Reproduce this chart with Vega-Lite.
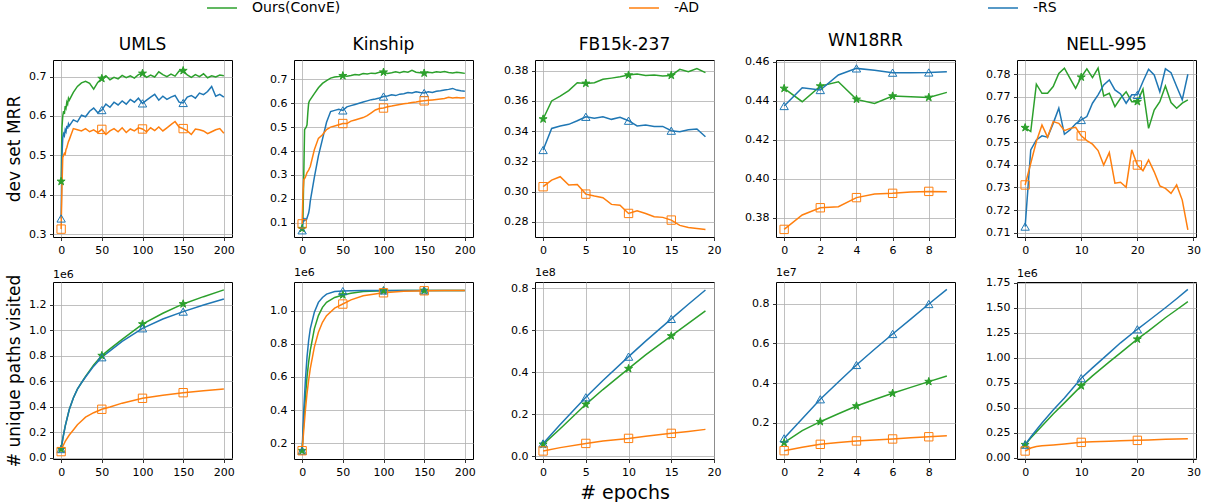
{
"$schema":"https://vega.github.io/schema/vega-lite/v6.json",
"padding":{"left":5,"top":0,"right":5,"bottom":3},
"datasets":{
"umls_mrr":[
{"s":"Ours(ConvE)","x":0,"y":0.434},{"s":"Ours(ConvE)","x":1,"y":0.57},{"s":"Ours(ConvE)","x":2,"y":0.6},{"s":"Ours(ConvE)","x":3,"y":0.612},{"s":"Ours(ConvE)","x":4,"y":0.605},{"s":"Ours(ConvE)","x":5,"y":0.625},{"s":"Ours(ConvE)","x":6,"y":0.62},{"s":"Ours(ConvE)","x":7,"y":0.635},{"s":"Ours(ConvE)","x":8,"y":0.63},{"s":"Ours(ConvE)","x":9,"y":0.645},{"s":"Ours(ConvE)","x":10,"y":0.64},{"s":"Ours(ConvE)","x":15,"y":0.66},{"s":"Ours(ConvE)","x":20,"y":0.675},{"s":"Ours(ConvE)","x":25,"y":0.684},{"s":"Ours(ConvE)","x":30,"y":0.688},{"s":"Ours(ConvE)","x":35,"y":0.683},{"s":"Ours(ConvE)","x":40,"y":0.668},{"s":"Ours(ConvE)","x":45,"y":0.685},{"s":"Ours(ConvE)","x":50,"y":0.695},{"s":"Ours(ConvE)","x":55,"y":0.702},{"s":"Ours(ConvE)","x":60,"y":0.692},{"s":"Ours(ConvE)","x":65,"y":0.698},{"s":"Ours(ConvE)","x":70,"y":0.694},{"s":"Ours(ConvE)","x":75,"y":0.703},{"s":"Ours(ConvE)","x":80,"y":0.697},{"s":"Ours(ConvE)","x":85,"y":0.702},{"s":"Ours(ConvE)","x":90,"y":0.696},{"s":"Ours(ConvE)","x":95,"y":0.705},{"s":"Ours(ConvE)","x":100,"y":0.708},{"s":"Ours(ConvE)","x":105,"y":0.698},{"s":"Ours(ConvE)","x":110,"y":0.704},{"s":"Ours(ConvE)","x":115,"y":0.699},{"s":"Ours(ConvE)","x":120,"y":0.712},{"s":"Ours(ConvE)","x":125,"y":0.705},{"s":"Ours(ConvE)","x":130,"y":0.7},{"s":"Ours(ConvE)","x":135,"y":0.706},{"s":"Ours(ConvE)","x":140,"y":0.701},{"s":"Ours(ConvE)","x":145,"y":0.714},{"s":"Ours(ConvE)","x":150,"y":0.715},{"s":"Ours(ConvE)","x":155,"y":0.704},{"s":"Ours(ConvE)","x":160,"y":0.698},{"s":"Ours(ConvE)","x":165,"y":0.705},{"s":"Ours(ConvE)","x":170,"y":0.7},{"s":"Ours(ConvE)","x":175,"y":0.707},{"s":"Ours(ConvE)","x":180,"y":0.697},{"s":"Ours(ConvE)","x":185,"y":0.702},{"s":"Ours(ConvE)","x":190,"y":0.699},{"s":"Ours(ConvE)","x":195,"y":0.704},{"s":"Ours(ConvE)","x":200,"y":0.702},
{"s":"-RS","x":0,"y":0.34},{"s":"-RS","x":1,"y":0.5},{"s":"-RS","x":2,"y":0.545},{"s":"-RS","x":3,"y":0.555},{"s":"-RS","x":4,"y":0.55},{"s":"-RS","x":5,"y":0.565},{"s":"-RS","x":6,"y":0.56},{"s":"-RS","x":7,"y":0.575},{"s":"-RS","x":8,"y":0.568},{"s":"-RS","x":9,"y":0.58},{"s":"-RS","x":10,"y":0.575},{"s":"-RS","x":15,"y":0.59},{"s":"-RS","x":20,"y":0.585},{"s":"-RS","x":25,"y":0.602},{"s":"-RS","x":30,"y":0.598},{"s":"-RS","x":35,"y":0.612},{"s":"-RS","x":40,"y":0.62},{"s":"-RS","x":45,"y":0.608},{"s":"-RS","x":50,"y":0.615},{"s":"-RS","x":55,"y":0.63},{"s":"-RS","x":60,"y":0.622},{"s":"-RS","x":65,"y":0.635},{"s":"-RS","x":70,"y":0.628},{"s":"-RS","x":75,"y":0.638},{"s":"-RS","x":80,"y":0.63},{"s":"-RS","x":85,"y":0.642},{"s":"-RS","x":90,"y":0.635},{"s":"-RS","x":95,"y":0.645},{"s":"-RS","x":100,"y":0.632},{"s":"-RS","x":105,"y":0.64},{"s":"-RS","x":110,"y":0.648},{"s":"-RS","x":115,"y":0.655},{"s":"-RS","x":120,"y":0.64},{"s":"-RS","x":125,"y":0.65},{"s":"-RS","x":130,"y":0.642},{"s":"-RS","x":135,"y":0.648},{"s":"-RS","x":140,"y":0.652},{"s":"-RS","x":145,"y":0.635},{"s":"-RS","x":150,"y":0.633},{"s":"-RS","x":155,"y":0.648},{"s":"-RS","x":160,"y":0.652},{"s":"-RS","x":165,"y":0.645},{"s":"-RS","x":170,"y":0.658},{"s":"-RS","x":175,"y":0.654},{"s":"-RS","x":180,"y":0.662},{"s":"-RS","x":185,"y":0.675},{"s":"-RS","x":190,"y":0.65},{"s":"-RS","x":195,"y":0.655},{"s":"-RS","x":200,"y":0.648},
{"s":"-AD","x":0,"y":0.313},{"s":"-AD","x":1,"y":0.42},{"s":"-AD","x":2,"y":0.495},{"s":"-AD","x":3,"y":0.5},{"s":"-AD","x":4,"y":0.505},{"s":"-AD","x":5,"y":0.503},{"s":"-AD","x":6,"y":0.515},{"s":"-AD","x":7,"y":0.52},{"s":"-AD","x":8,"y":0.528},{"s":"-AD","x":9,"y":0.535},{"s":"-AD","x":10,"y":0.54},{"s":"-AD","x":15,"y":0.568},{"s":"-AD","x":20,"y":0.565},{"s":"-AD","x":25,"y":0.562},{"s":"-AD","x":30,"y":0.568},{"s":"-AD","x":35,"y":0.56},{"s":"-AD","x":40,"y":0.565},{"s":"-AD","x":45,"y":0.558},{"s":"-AD","x":50,"y":0.566},{"s":"-AD","x":55,"y":0.553},{"s":"-AD","x":60,"y":0.562},{"s":"-AD","x":65,"y":0.568},{"s":"-AD","x":70,"y":0.56},{"s":"-AD","x":75,"y":0.57},{"s":"-AD","x":80,"y":0.558},{"s":"-AD","x":85,"y":0.567},{"s":"-AD","x":90,"y":0.562},{"s":"-AD","x":95,"y":0.57},{"s":"-AD","x":100,"y":0.567},{"s":"-AD","x":105,"y":0.56},{"s":"-AD","x":110,"y":0.57},{"s":"-AD","x":115,"y":0.563},{"s":"-AD","x":120,"y":0.572},{"s":"-AD","x":125,"y":0.562},{"s":"-AD","x":130,"y":0.57},{"s":"-AD","x":135,"y":0.578},{"s":"-AD","x":140,"y":0.586},{"s":"-AD","x":145,"y":0.572},{"s":"-AD","x":150,"y":0.568},{"s":"-AD","x":155,"y":0.562},{"s":"-AD","x":160,"y":0.553},{"s":"-AD","x":165,"y":0.567},{"s":"-AD","x":170,"y":0.565},{"s":"-AD","x":175,"y":0.562},{"s":"-AD","x":180,"y":0.555},{"s":"-AD","x":185,"y":0.56},{"s":"-AD","x":190,"y":0.565},{"s":"-AD","x":195,"y":0.568},{"s":"-AD","x":200,"y":0.556}
],
"kin_mrr":[
{"s":"Ours(ConvE)","x":0,"y":0.075},{"s":"Ours(ConvE)","x":1,"y":0.12},{"s":"Ours(ConvE)","x":2,"y":0.3},{"s":"Ours(ConvE)","x":3,"y":0.49},{"s":"Ours(ConvE)","x":4,"y":0.495},{"s":"Ours(ConvE)","x":5,"y":0.5},{"s":"Ours(ConvE)","x":6,"y":0.51},{"s":"Ours(ConvE)","x":7,"y":0.56},{"s":"Ours(ConvE)","x":8,"y":0.6},{"s":"Ours(ConvE)","x":9,"y":0.61},{"s":"Ours(ConvE)","x":10,"y":0.615},{"s":"Ours(ConvE)","x":15,"y":0.64},{"s":"Ours(ConvE)","x":20,"y":0.665},{"s":"Ours(ConvE)","x":25,"y":0.683},{"s":"Ours(ConvE)","x":30,"y":0.695},{"s":"Ours(ConvE)","x":35,"y":0.705},{"s":"Ours(ConvE)","x":40,"y":0.71},{"s":"Ours(ConvE)","x":45,"y":0.712},{"s":"Ours(ConvE)","x":50,"y":0.715},{"s":"Ours(ConvE)","x":55,"y":0.713},{"s":"Ours(ConvE)","x":60,"y":0.716},{"s":"Ours(ConvE)","x":65,"y":0.72},{"s":"Ours(ConvE)","x":70,"y":0.718},{"s":"Ours(ConvE)","x":75,"y":0.724},{"s":"Ours(ConvE)","x":80,"y":0.722},{"s":"Ours(ConvE)","x":85,"y":0.726},{"s":"Ours(ConvE)","x":90,"y":0.725},{"s":"Ours(ConvE)","x":95,"y":0.73},{"s":"Ours(ConvE)","x":100,"y":0.73},{"s":"Ours(ConvE)","x":105,"y":0.725},{"s":"Ours(ConvE)","x":110,"y":0.728},{"s":"Ours(ConvE)","x":115,"y":0.732},{"s":"Ours(ConvE)","x":120,"y":0.728},{"s":"Ours(ConvE)","x":125,"y":0.733},{"s":"Ours(ConvE)","x":130,"y":0.73},{"s":"Ours(ConvE)","x":135,"y":0.738},{"s":"Ours(ConvE)","x":140,"y":0.73},{"s":"Ours(ConvE)","x":145,"y":0.728},{"s":"Ours(ConvE)","x":150,"y":0.726},{"s":"Ours(ConvE)","x":155,"y":0.73},{"s":"Ours(ConvE)","x":160,"y":0.728},{"s":"Ours(ConvE)","x":165,"y":0.732},{"s":"Ours(ConvE)","x":170,"y":0.73},{"s":"Ours(ConvE)","x":175,"y":0.733},{"s":"Ours(ConvE)","x":180,"y":0.729},{"s":"Ours(ConvE)","x":185,"y":0.727},{"s":"Ours(ConvE)","x":190,"y":0.73},{"s":"Ours(ConvE)","x":195,"y":0.728},{"s":"Ours(ConvE)","x":200,"y":0.725},
{"s":"-RS","x":0,"y":0.068},{"s":"-RS","x":1,"y":0.1},{"s":"-RS","x":2,"y":0.12},{"s":"-RS","x":3,"y":0.11},{"s":"-RS","x":4,"y":0.115},{"s":"-RS","x":5,"y":0.11},{"s":"-RS","x":6,"y":0.12},{"s":"-RS","x":7,"y":0.13},{"s":"-RS","x":8,"y":0.14},{"s":"-RS","x":9,"y":0.16},{"s":"-RS","x":10,"y":0.19},{"s":"-RS","x":15,"y":0.29},{"s":"-RS","x":20,"y":0.38},{"s":"-RS","x":25,"y":0.45},{"s":"-RS","x":30,"y":0.52},{"s":"-RS","x":35,"y":0.565},{"s":"-RS","x":40,"y":0.57},{"s":"-RS","x":45,"y":0.575},{"s":"-RS","x":50,"y":0.57},{"s":"-RS","x":55,"y":0.585},{"s":"-RS","x":60,"y":0.59},{"s":"-RS","x":65,"y":0.595},{"s":"-RS","x":70,"y":0.6},{"s":"-RS","x":75,"y":0.605},{"s":"-RS","x":80,"y":0.61},{"s":"-RS","x":85,"y":0.615},{"s":"-RS","x":90,"y":0.618},{"s":"-RS","x":95,"y":0.622},{"s":"-RS","x":100,"y":0.628},{"s":"-RS","x":105,"y":0.63},{"s":"-RS","x":110,"y":0.635},{"s":"-RS","x":115,"y":0.632},{"s":"-RS","x":120,"y":0.638},{"s":"-RS","x":125,"y":0.64},{"s":"-RS","x":130,"y":0.645},{"s":"-RS","x":135,"y":0.643},{"s":"-RS","x":140,"y":0.648},{"s":"-RS","x":145,"y":0.645},{"s":"-RS","x":150,"y":0.643},{"s":"-RS","x":155,"y":0.648},{"s":"-RS","x":160,"y":0.645},{"s":"-RS","x":165,"y":0.65},{"s":"-RS","x":170,"y":0.652},{"s":"-RS","x":175,"y":0.655},{"s":"-RS","x":180,"y":0.658},{"s":"-RS","x":185,"y":0.662},{"s":"-RS","x":190,"y":0.655},{"s":"-RS","x":195,"y":0.652},{"s":"-RS","x":200,"y":0.65},
{"s":"-AD","x":0,"y":0.095},{"s":"-AD","x":1,"y":0.22},{"s":"-AD","x":2,"y":0.28},{"s":"-AD","x":3,"y":0.285},{"s":"-AD","x":4,"y":0.29},{"s":"-AD","x":5,"y":0.3},{"s":"-AD","x":6,"y":0.31},{"s":"-AD","x":7,"y":0.315},{"s":"-AD","x":8,"y":0.32},{"s":"-AD","x":9,"y":0.328},{"s":"-AD","x":10,"y":0.335},{"s":"-AD","x":15,"y":0.405},{"s":"-AD","x":20,"y":0.453},{"s":"-AD","x":25,"y":0.468},{"s":"-AD","x":30,"y":0.49},{"s":"-AD","x":35,"y":0.5},{"s":"-AD","x":40,"y":0.505},{"s":"-AD","x":45,"y":0.51},{"s":"-AD","x":50,"y":0.515},{"s":"-AD","x":55,"y":0.515},{"s":"-AD","x":60,"y":0.525},{"s":"-AD","x":65,"y":0.53},{"s":"-AD","x":70,"y":0.535},{"s":"-AD","x":75,"y":0.54},{"s":"-AD","x":80,"y":0.548},{"s":"-AD","x":85,"y":0.56},{"s":"-AD","x":90,"y":0.572},{"s":"-AD","x":95,"y":0.578},{"s":"-AD","x":100,"y":0.58},{"s":"-AD","x":105,"y":0.585},{"s":"-AD","x":110,"y":0.588},{"s":"-AD","x":115,"y":0.592},{"s":"-AD","x":120,"y":0.595},{"s":"-AD","x":125,"y":0.598},{"s":"-AD","x":130,"y":0.6},{"s":"-AD","x":135,"y":0.603},{"s":"-AD","x":140,"y":0.605},{"s":"-AD","x":145,"y":0.608},{"s":"-AD","x":150,"y":0.61},{"s":"-AD","x":155,"y":0.612},{"s":"-AD","x":160,"y":0.614},{"s":"-AD","x":165,"y":0.616},{"s":"-AD","x":170,"y":0.618},{"s":"-AD","x":175,"y":0.62},{"s":"-AD","x":180,"y":0.625},{"s":"-AD","x":185,"y":0.622},{"s":"-AD","x":190,"y":0.624},{"s":"-AD","x":195,"y":0.622},{"s":"-AD","x":200,"y":0.623}
],
"fb_mrr":[
{"s":"Ours(ConvE)","x":0,"y":0.348},{"s":"Ours(ConvE)","x":1,"y":0.36},{"s":"Ours(ConvE)","x":2,"y":0.3632},{"s":"Ours(ConvE)","x":3,"y":0.3668},{"s":"Ours(ConvE)","x":4,"y":0.372},{"s":"Ours(ConvE)","x":5,"y":0.3716},{"s":"Ours(ConvE)","x":6,"y":0.372},{"s":"Ours(ConvE)","x":7,"y":0.3743},{"s":"Ours(ConvE)","x":8,"y":0.3751},{"s":"Ours(ConvE)","x":9,"y":0.376},{"s":"Ours(ConvE)","x":10,"y":0.3771},{"s":"Ours(ConvE)","x":11,"y":0.3778},{"s":"Ours(ConvE)","x":12,"y":0.3769},{"s":"Ours(ConvE)","x":13,"y":0.3771},{"s":"Ours(ConvE)","x":14,"y":0.3765},{"s":"Ours(ConvE)","x":15,"y":0.3769},{"s":"Ours(ConvE)","x":16,"y":0.3809},{"s":"Ours(ConvE)","x":17,"y":0.3793},{"s":"Ours(ConvE)","x":18,"y":0.3815},{"s":"Ours(ConvE)","x":19,"y":0.3787},
{"s":"-RS","x":0,"y":0.3275},{"s":"-RS","x":1,"y":0.3418},{"s":"-RS","x":2,"y":0.3434},{"s":"-RS","x":3,"y":0.3445},{"s":"-RS","x":4,"y":0.3469},{"s":"-RS","x":5,"y":0.3495},{"s":"-RS","x":6,"y":0.3485},{"s":"-RS","x":7,"y":0.3495},{"s":"-RS","x":8,"y":0.3478},{"s":"-RS","x":9,"y":0.3491},{"s":"-RS","x":10,"y":0.3469},{"s":"-RS","x":11,"y":0.3434},{"s":"-RS","x":12,"y":0.344},{"s":"-RS","x":13,"y":0.3431},{"s":"-RS","x":14,"y":0.3431},{"s":"-RS","x":15,"y":0.3403},{"s":"-RS","x":16,"y":0.3396},{"s":"-RS","x":17,"y":0.3409},{"s":"-RS","x":18,"y":0.3414},{"s":"-RS","x":19,"y":0.3363},
{"s":"-AD","x":0,"y":0.3032},{"s":"-AD","x":1,"y":0.3076},{"s":"-AD","x":2,"y":0.3098},{"s":"-AD","x":3,"y":0.3043},{"s":"-AD","x":4,"y":0.3047},{"s":"-AD","x":5,"y":0.2983},{"s":"-AD","x":6,"y":0.297},{"s":"-AD","x":7,"y":0.2959},{"s":"-AD","x":8,"y":0.2915},{"s":"-AD","x":9,"y":0.291},{"s":"-AD","x":10,"y":0.2855},{"s":"-AD","x":11,"y":0.2873},{"s":"-AD","x":12,"y":0.2855},{"s":"-AD","x":13,"y":0.2833},{"s":"-AD","x":14,"y":0.2829},{"s":"-AD","x":15,"y":0.2811},{"s":"-AD","x":16,"y":0.2776},{"s":"-AD","x":17,"y":0.2762},{"s":"-AD","x":18,"y":0.2756},{"s":"-AD","x":19,"y":0.2749}
],
"wn_mrr":[
{"s":"Ours(ConvE)","x":0,"y":0.4463},{"s":"Ours(ConvE)","x":1,"y":0.4395},{"s":"Ours(ConvE)","x":2,"y":0.4475},{"s":"Ours(ConvE)","x":3,"y":0.4497},{"s":"Ours(ConvE)","x":4,"y":0.4407},{"s":"Ours(ConvE)","x":5,"y":0.4386},{"s":"Ours(ConvE)","x":6,"y":0.4424},{"s":"Ours(ConvE)","x":7,"y":0.442},{"s":"Ours(ConvE)","x":8,"y":0.4417},{"s":"Ours(ConvE)","x":9,"y":0.4443},
{"s":"-RS","x":0,"y":0.4373},{"s":"-RS","x":1,"y":0.4467},{"s":"-RS","x":2,"y":0.4455},{"s":"-RS","x":3,"y":0.4532},{"s":"-RS","x":4,"y":0.4566},{"s":"-RS","x":5,"y":0.4557},{"s":"-RS","x":6,"y":0.4544},{"s":"-RS","x":7,"y":0.4544},{"s":"-RS","x":8,"y":0.4545},{"s":"-RS","x":9,"y":0.4549},
{"s":"-AD","x":0,"y":0.374},{"s":"-AD","x":1,"y":0.3814},{"s":"-AD","x":2,"y":0.3851},{"s":"-AD","x":3,"y":0.3856},{"s":"-AD","x":4,"y":0.3903},{"s":"-AD","x":5,"y":0.3921},{"s":"-AD","x":6,"y":0.3925},{"s":"-AD","x":7,"y":0.3932},{"s":"-AD","x":8,"y":0.3935},{"s":"-AD","x":9,"y":0.3933}
],
"nell_mrr":[
{"s":"Ours(ConvE)","x":0,"y":0.7564},{"s":"Ours(ConvE)","x":1,"y":0.7547},{"s":"Ours(ConvE)","x":2,"y":0.7756},{"s":"Ours(ConvE)","x":3,"y":0.7716},{"s":"Ours(ConvE)","x":4,"y":0.7716},{"s":"Ours(ConvE)","x":5,"y":0.7746},{"s":"Ours(ConvE)","x":6,"y":0.7804},{"s":"Ours(ConvE)","x":7,"y":0.7827},{"s":"Ours(ConvE)","x":8,"y":0.7782},{"s":"Ours(ConvE)","x":9,"y":0.7738},{"s":"Ours(ConvE)","x":10,"y":0.7787},{"s":"Ours(ConvE)","x":11,"y":0.7824},{"s":"Ours(ConvE)","x":12,"y":0.7785},{"s":"Ours(ConvE)","x":13,"y":0.7827},{"s":"Ours(ConvE)","x":14,"y":0.7704},{"s":"Ours(ConvE)","x":15,"y":0.7716},{"s":"Ours(ConvE)","x":16,"y":0.7657},{"s":"Ours(ConvE)","x":17,"y":0.7694},{"s":"Ours(ConvE)","x":18,"y":0.7723},{"s":"Ours(ConvE)","x":19,"y":0.7679},{"s":"Ours(ConvE)","x":20,"y":0.7679},{"s":"Ours(ConvE)","x":21,"y":0.7734},{"s":"Ours(ConvE)","x":22,"y":0.7561},{"s":"Ours(ConvE)","x":23,"y":0.7642},{"s":"Ours(ConvE)","x":24,"y":0.7679},{"s":"Ours(ConvE)","x":25,"y":0.7748},{"s":"Ours(ConvE)","x":26,"y":0.7675},{"s":"Ours(ConvE)","x":27,"y":0.765},{"s":"Ours(ConvE)","x":28,"y":0.7672},{"s":"Ours(ConvE)","x":29,"y":0.7687},
{"s":"-RS","x":0,"y":0.7127},{"s":"-RS","x":1,"y":0.7466},{"s":"-RS","x":2,"y":0.751},{"s":"-RS","x":3,"y":0.7528},{"s":"-RS","x":4,"y":0.7522},{"s":"-RS","x":5,"y":0.7583},{"s":"-RS","x":6,"y":0.765},{"s":"-RS","x":7,"y":0.7535},{"s":"-RS","x":8,"y":0.7554},{"s":"-RS","x":9,"y":0.7581},{"s":"-RS","x":10,"y":0.7598},{"s":"-RS","x":11,"y":0.7613},{"s":"-RS","x":12,"y":0.7672},{"s":"-RS","x":13,"y":0.7709},{"s":"-RS","x":14,"y":0.7753},{"s":"-RS","x":15,"y":0.7775},{"s":"-RS","x":16,"y":0.7731},{"s":"-RS","x":17,"y":0.7713},{"s":"-RS","x":18,"y":0.7672},{"s":"-RS","x":19,"y":0.7709},{"s":"-RS","x":20,"y":0.7709},{"s":"-RS","x":21,"y":0.7768},{"s":"-RS","x":22,"y":0.7822},{"s":"-RS","x":23,"y":0.7797},{"s":"-RS","x":24,"y":0.7723},{"s":"-RS","x":25,"y":0.7824},{"s":"-RS","x":26,"y":0.7807},{"s":"-RS","x":27,"y":0.7746},{"s":"-RS","x":28,"y":0.7687},{"s":"-RS","x":29,"y":0.78},
{"s":"-AD","x":0,"y":0.7311},{"s":"-AD","x":1,"y":0.7407},{"s":"-AD","x":2,"y":0.7503},{"s":"-AD","x":3,"y":0.7576},{"s":"-AD","x":4,"y":0.7522},{"s":"-AD","x":5,"y":0.7591},{"s":"-AD","x":6,"y":0.7583},{"s":"-AD","x":7,"y":0.7551},{"s":"-AD","x":8,"y":0.7561},{"s":"-AD","x":9,"y":0.7566},{"s":"-AD","x":10,"y":0.7528},{"s":"-AD","x":11,"y":0.7507},{"s":"-AD","x":12,"y":0.7491},{"s":"-AD","x":13,"y":0.7463},{"s":"-AD","x":14,"y":0.7399},{"s":"-AD","x":15,"y":0.7454},{"s":"-AD","x":16,"y":0.7319},{"s":"-AD","x":17,"y":0.7323},{"s":"-AD","x":18,"y":0.7301},{"s":"-AD","x":19,"y":0.7466},{"s":"-AD","x":20,"y":0.7399},{"s":"-AD","x":21,"y":0.7374},{"s":"-AD","x":22,"y":0.7421},{"s":"-AD","x":23,"y":0.7369},{"s":"-AD","x":24,"y":0.7307},{"s":"-AD","x":25,"y":0.7296},{"s":"-AD","x":26,"y":0.7274},{"s":"-AD","x":27,"y":0.7311},{"s":"-AD","x":28,"y":0.7244},{"s":"-AD","x":29,"y":0.7112}
],
"umls_path":[
{"s":"Ours(ConvE)","x":0,"y":70000},{"s":"Ours(ConvE)","x":2,"y":150000},{"s":"Ours(ConvE)","x":5,"y":250000},{"s":"Ours(ConvE)","x":10,"y":380000},{"s":"Ours(ConvE)","x":15,"y":470000},{"s":"Ours(ConvE)","x":20,"y":540000},{"s":"Ours(ConvE)","x":25,"y":590000},{"s":"Ours(ConvE)","x":30,"y":640000},{"s":"Ours(ConvE)","x":40,"y":730000},{"s":"Ours(ConvE)","x":50,"y":803000},{"s":"Ours(ConvE)","x":60,"y":855000},{"s":"Ours(ConvE)","x":75,"y":930000},{"s":"Ours(ConvE)","x":100,"y":1050000},{"s":"Ours(ConvE)","x":125,"y":1135000},{"s":"Ours(ConvE)","x":150,"y":1208000},{"s":"Ours(ConvE)","x":175,"y":1265000},{"s":"Ours(ConvE)","x":200,"y":1318000},
{"s":"-RS","x":0,"y":70000},{"s":"-RS","x":2,"y":150000},{"s":"-RS","x":5,"y":250000},{"s":"-RS","x":10,"y":380000},{"s":"-RS","x":15,"y":470000},{"s":"-RS","x":20,"y":540000},{"s":"-RS","x":25,"y":590000},{"s":"-RS","x":30,"y":635000},{"s":"-RS","x":40,"y":720000},{"s":"-RS","x":50,"y":790000},{"s":"-RS","x":60,"y":840000},{"s":"-RS","x":75,"y":915000},{"s":"-RS","x":100,"y":1017000},{"s":"-RS","x":125,"y":1090000},{"s":"-RS","x":150,"y":1148000},{"s":"-RS","x":175,"y":1200000},{"s":"-RS","x":200,"y":1247000},
{"s":"-AD","x":0,"y":50000},{"s":"-AD","x":2,"y":90000},{"s":"-AD","x":5,"y":130000},{"s":"-AD","x":10,"y":180000},{"s":"-AD","x":15,"y":220000},{"s":"-AD","x":20,"y":260000},{"s":"-AD","x":25,"y":290000},{"s":"-AD","x":30,"y":320000},{"s":"-AD","x":40,"y":355000},{"s":"-AD","x":50,"y":382000},{"s":"-AD","x":60,"y":400000},{"s":"-AD","x":75,"y":430000},{"s":"-AD","x":100,"y":468000},{"s":"-AD","x":125,"y":492000},{"s":"-AD","x":150,"y":512000},{"s":"-AD","x":175,"y":527000},{"s":"-AD","x":200,"y":541000}
],
"kin_path":[
{"s":"Ours(ConvE)","x":0,"y":155000},{"s":"Ours(ConvE)","x":2,"y":330000},{"s":"Ours(ConvE)","x":4,"y":480000},{"s":"Ours(ConvE)","x":6,"y":600000},{"s":"Ours(ConvE)","x":8,"y":690000},{"s":"Ours(ConvE)","x":10,"y":760000},{"s":"Ours(ConvE)","x":15,"y":890000},{"s":"Ours(ConvE)","x":20,"y":970000},{"s":"Ours(ConvE)","x":25,"y":1020000},{"s":"Ours(ConvE)","x":30,"y":1050000},{"s":"Ours(ConvE)","x":40,"y":1080000},{"s":"Ours(ConvE)","x":50,"y":1095000},{"s":"Ours(ConvE)","x":60,"y":1105000},{"s":"Ours(ConvE)","x":75,"y":1115000},{"s":"Ours(ConvE)","x":100,"y":1120000},{"s":"Ours(ConvE)","x":125,"y":1121000},{"s":"Ours(ConvE)","x":150,"y":1122000},{"s":"Ours(ConvE)","x":175,"y":1122000},{"s":"Ours(ConvE)","x":200,"y":1122000},
{"s":"-RS","x":0,"y":155000},{"s":"-RS","x":2,"y":400000},{"s":"-RS","x":4,"y":580000},{"s":"-RS","x":6,"y":720000},{"s":"-RS","x":8,"y":820000},{"s":"-RS","x":10,"y":890000},{"s":"-RS","x":15,"y":990000},{"s":"-RS","x":20,"y":1050000},{"s":"-RS","x":25,"y":1080000},{"s":"-RS","x":30,"y":1100000},{"s":"-RS","x":40,"y":1115000},{"s":"-RS","x":50,"y":1118000},{"s":"-RS","x":60,"y":1120000},{"s":"-RS","x":75,"y":1121000},{"s":"-RS","x":100,"y":1122000},{"s":"-RS","x":125,"y":1122000},{"s":"-RS","x":150,"y":1122000},{"s":"-RS","x":175,"y":1122000},{"s":"-RS","x":200,"y":1122000},
{"s":"-AD","x":0,"y":155000},{"s":"-AD","x":2,"y":280000},{"s":"-AD","x":4,"y":400000},{"s":"-AD","x":6,"y":500000},{"s":"-AD","x":8,"y":580000},{"s":"-AD","x":10,"y":650000},{"s":"-AD","x":15,"y":780000},{"s":"-AD","x":20,"y":870000},{"s":"-AD","x":25,"y":930000},{"s":"-AD","x":30,"y":970000},{"s":"-AD","x":40,"y":1015000},{"s":"-AD","x":50,"y":1040000},{"s":"-AD","x":60,"y":1065000},{"s":"-AD","x":75,"y":1090000},{"s":"-AD","x":100,"y":1108000},{"s":"-AD","x":125,"y":1117000},{"s":"-AD","x":150,"y":1120000},{"s":"-AD","x":175,"y":1121000},{"s":"-AD","x":200,"y":1122000}
],
"fb_path":[
{"s":"Ours(ConvE)","x":0,"y":5570000},{"s":"Ours(ConvE)","x":2,"y":13000000},{"s":"Ours(ConvE)","x":5,"y":24650000},{"s":"Ours(ConvE)","x":7,"y":31700000},{"s":"Ours(ConvE)","x":10,"y":41670000},{"s":"Ours(ConvE)","x":12,"y":48200000},{"s":"Ours(ConvE)","x":15,"y":57260000},{"s":"Ours(ConvE)","x":17,"y":63300000},{"s":"Ours(ConvE)","x":19,"y":69200000},
{"s":"-RS","x":0,"y":6000000},{"s":"-RS","x":2,"y":15000000},{"s":"-RS","x":5,"y":28000000},{"s":"-RS","x":7,"y":36000000},{"s":"-RS","x":10,"y":47400000},{"s":"-RS","x":12,"y":54800000},{"s":"-RS","x":15,"y":65400000},{"s":"-RS","x":17,"y":72400000},{"s":"-RS","x":19,"y":79200000},
{"s":"-AD","x":0,"y":2400000},{"s":"-AD","x":2,"y":4000000},{"s":"-AD","x":5,"y":6000000},{"s":"-AD","x":7,"y":7200000},{"s":"-AD","x":10,"y":8400000},{"s":"-AD","x":12,"y":9400000},{"s":"-AD","x":15,"y":10800000},{"s":"-AD","x":17,"y":11700000},{"s":"-AD","x":19,"y":12700000}
],
"wn_path":[
{"s":"Ours(ConvE)","x":0,"y":990000},{"s":"Ours(ConvE)","x":1,"y":1600000},{"s":"Ours(ConvE)","x":2,"y":2050000},{"s":"Ours(ConvE)","x":3,"y":2450000},{"s":"Ours(ConvE)","x":4,"y":2840000},{"s":"Ours(ConvE)","x":5,"y":3170000},{"s":"Ours(ConvE)","x":6,"y":3480000},{"s":"Ours(ConvE)","x":7,"y":3780000},{"s":"Ours(ConvE)","x":8,"y":4070000},{"s":"Ours(ConvE)","x":9,"y":4350000},
{"s":"-RS","x":0,"y":1210000},{"s":"-RS","x":1,"y":2200000},{"s":"-RS","x":2,"y":3180000},{"s":"-RS","x":3,"y":4050000},{"s":"-RS","x":4,"y":4910000},{"s":"-RS","x":5,"y":5700000},{"s":"-RS","x":6,"y":6470000},{"s":"-RS","x":7,"y":7220000},{"s":"-RS","x":8,"y":7980000},{"s":"-RS","x":9,"y":8720000},
{"s":"-AD","x":0,"y":590000},{"s":"-AD","x":1,"y":760000},{"s":"-AD","x":2,"y":910000},{"s":"-AD","x":3,"y":1000000},{"s":"-AD","x":4,"y":1080000},{"s":"-AD","x":5,"y":1130000},{"s":"-AD","x":6,"y":1180000},{"s":"-AD","x":7,"y":1240000},{"s":"-AD","x":8,"y":1290000},{"s":"-AD","x":9,"y":1340000}
],
"nell_path":[
{"s":"Ours(ConvE)","x":0,"y":133000},{"s":"Ours(ConvE)","x":1,"y":200000},{"s":"Ours(ConvE)","x":2,"y":260000},{"s":"Ours(ConvE)","x":3,"y":320000},{"s":"Ours(ConvE)","x":5,"y":440000},{"s":"Ours(ConvE)","x":7,"y":550000},{"s":"Ours(ConvE)","x":10,"y":720000},{"s":"Ours(ConvE)","x":12,"y":820000},{"s":"Ours(ConvE)","x":15,"y":960000},{"s":"Ours(ConvE)","x":17,"y":1050000},{"s":"Ours(ConvE)","x":20,"y":1186000},{"s":"Ours(ConvE)","x":22,"y":1270000},{"s":"Ours(ConvE)","x":25,"y":1400000},{"s":"Ours(ConvE)","x":27,"y":1480000},{"s":"Ours(ConvE)","x":29,"y":1561000},
{"s":"-RS","x":0,"y":133000},{"s":"-RS","x":1,"y":210000},{"s":"-RS","x":2,"y":280000},{"s":"-RS","x":3,"y":350000},{"s":"-RS","x":5,"y":480000},{"s":"-RS","x":7,"y":600000},{"s":"-RS","x":10,"y":797000},{"s":"-RS","x":12,"y":900000},{"s":"-RS","x":15,"y":1050000},{"s":"-RS","x":17,"y":1150000},{"s":"-RS","x":20,"y":1285000},{"s":"-RS","x":22,"y":1370000},{"s":"-RS","x":25,"y":1500000},{"s":"-RS","x":27,"y":1590000},{"s":"-RS","x":29,"y":1684000},
{"s":"-AD","x":0,"y":70000},{"s":"-AD","x":1,"y":100000},{"s":"-AD","x":2,"y":115000},{"s":"-AD","x":3,"y":122000},{"s":"-AD","x":5,"y":130000},{"s":"-AD","x":7,"y":140000},{"s":"-AD","x":10,"y":156000},{"s":"-AD","x":12,"y":161000},{"s":"-AD","x":15,"y":167000},{"s":"-AD","x":17,"y":171000},{"s":"-AD","x":20,"y":176000},{"s":"-AD","x":22,"y":180000},{"s":"-AD","x":25,"y":186000},{"s":"-AD","x":27,"y":190000},{"s":"-AD","x":29,"y":193000}
]
},
"columns":5,
"spacing":{"row":45,"column":62},
"bounds":"flush",
"concat":[
{"width":179,"height":177,"title":{"text":"UMLS"},"data":{"name":"umls_mrr"},
"encoding":{"x":{"field":"x","type":"quantitative","scale":{"domain":[-10,210],"nice":false,"zero":false},"axis":{"values":[0,50,100,150,200],"title":null}},
"y":{"field":"y","type":"quantitative","scale":{"domain":[0.293,0.742],"nice":false,"zero":false},"axis":{"values":[0.3,0.4,0.5,0.6,0.7],"format":".1f","title":"dev set MRR"}}},
"layer":[
{"mark":{"type":"line","strokeWidth":1.5},"encoding":{"color":{"field":"s","type":"nominal","scale":{"domain":["Ours(ConvE)","-AD","-RS"],"range":["#2ca02c","#ff7f0e","#1f77b4"]},"legend":{"title":null,"orient":"none","legendX":161,"legendY":-60}}}},
{"transform":[{"filter":"indexof([0,50,100,150],datum.x)>=0"}],"mark":{"type":"point","filled":false,"size":70,"strokeWidth":1,"opacity":1},
"encoding":{"stroke":{"field":"s","type":"nominal","scale":{"domain":["-AD","-RS","Ours(ConvE)"],"range":["#ff7f0e","#1f77b4","#2ca02c"]},"legend":null},
"fill":{"field":"s","type":"nominal","scale":{"domain":["-AD","-RS","Ours(ConvE)"],"range":["transparent","transparent","#2ca02c"]},"legend":null},
"shape":{"field":"s","type":"nominal","scale":{"domain":["-AD","-RS","Ours(ConvE)"],"range":["square","triangle-up","M0,-1L0.2245,-0.309L0.9511,-0.309L0.3633,0.118L0.5878,0.809L0,0.382L-0.5878,0.809L-0.3633,0.118L-0.9511,-0.309L-0.2245,-0.309Z"]},"legend":null}}}
]},
{"width":179,"height":177,"title":{"text":"Kinship"},"data":{"name":"kin_mrr"},
"encoding":{"x":{"field":"x","type":"quantitative","scale":{"domain":[-10,210],"nice":false,"zero":false},"axis":{"values":[0,50,100,150,200],"title":null}},
"y":{"field":"y","type":"quantitative","scale":{"domain":[0.04,0.781],"nice":false,"zero":false},"axis":{"values":[0.1,0.2,0.3,0.4,0.5,0.6,0.7],"format":".1f","title":null}}},
"layer":[
{"mark":{"type":"line","strokeWidth":1.5},"encoding":{"color":{"field":"s","type":"nominal","scale":{"domain":["Ours(ConvE)","-AD","-RS"],"range":["#2ca02c","#ff7f0e","#1f77b4"]},"legend":{"title":null,"orient":"none","legendX":161,"legendY":-60}}}},
{"transform":[{"filter":"indexof([0,50,100,150],datum.x)>=0"}],"mark":{"type":"point","filled":false,"size":70,"strokeWidth":1,"opacity":1},
"encoding":{"stroke":{"field":"s","type":"nominal","scale":{"domain":["-AD","-RS","Ours(ConvE)"],"range":["#ff7f0e","#1f77b4","#2ca02c"]},"legend":null},
"fill":{"field":"s","type":"nominal","scale":{"domain":["-AD","-RS","Ours(ConvE)"],"range":["transparent","transparent","#2ca02c"]},"legend":null},
"shape":{"field":"s","type":"nominal","scale":{"domain":["-AD","-RS","Ours(ConvE)"],"range":["square","triangle-up","M0,-1L0.2245,-0.309L0.9511,-0.309L0.3633,0.118L0.5878,0.809L0,0.382L-0.5878,0.809L-0.3633,0.118L-0.9511,-0.309L-0.2245,-0.309Z"]},"legend":null}}}
]},
{"width":179,"height":177,"title":{"text":"FB15k-237"},"data":{"name":"fb_mrr"},
"encoding":{"x":{"field":"x","type":"quantitative","scale":{"domain":[-0.95,20],"nice":false,"zero":false},"axis":{"values":[0,5,10,15,20],"title":null}},
"y":{"field":"y","type":"quantitative","scale":{"domain":[0.2699,0.3871],"nice":false,"zero":false},"axis":{"values":[0.28,0.3,0.32,0.34,0.36,0.38],"format":".2f","title":null}}},
"layer":[
{"mark":{"type":"line","strokeWidth":1.5},"encoding":{"color":{"field":"s","type":"nominal","scale":{"domain":["Ours(ConvE)","-AD","-RS"],"range":["#2ca02c","#ff7f0e","#1f77b4"]},"legend":{"title":null,"orient":"none","legendX":161,"legendY":-60}}}},
{"transform":[{"filter":"indexof([0,5,10,15],datum.x)>=0"}],"mark":{"type":"point","filled":false,"size":70,"strokeWidth":1,"opacity":1},
"encoding":{"stroke":{"field":"s","type":"nominal","scale":{"domain":["-AD","-RS","Ours(ConvE)"],"range":["#ff7f0e","#1f77b4","#2ca02c"]},"legend":null},
"fill":{"field":"s","type":"nominal","scale":{"domain":["-AD","-RS","Ours(ConvE)"],"range":["transparent","transparent","#2ca02c"]},"legend":null},
"shape":{"field":"s","type":"nominal","scale":{"domain":["-AD","-RS","Ours(ConvE)"],"range":["square","triangle-up","M0,-1L0.2245,-0.309L0.9511,-0.309L0.3633,0.118L0.5878,0.809L0,0.382L-0.5878,0.809L-0.3633,0.118L-0.9511,-0.309L-0.2245,-0.309Z"]},"legend":null}}}
]},
{"width":179,"height":177,"title":{"text":"WN18RR"},"data":{"name":"wn_mrr"},
"encoding":{"x":{"field":"x","type":"quantitative","scale":{"domain":[-0.45,9.45],"nice":false,"zero":false},"axis":{"values":[0,2,4,6,8],"title":null}},
"y":{"field":"y","type":"quantitative","scale":{"domain":[0.3701,0.4609],"nice":false,"zero":false},"axis":{"values":[0.38,0.4,0.42,0.44,0.46],"format":".2f","title":null}}},
"layer":[
{"mark":{"type":"line","strokeWidth":1.5},"encoding":{"color":{"field":"s","type":"nominal","scale":{"domain":["Ours(ConvE)","-AD","-RS"],"range":["#2ca02c","#ff7f0e","#1f77b4"]},"legend":{"title":null,"orient":"none","legendX":161,"legendY":-60}}}},
{"transform":[{"filter":"indexof([0,2,4,6,8],datum.x)>=0"}],"mark":{"type":"point","filled":false,"size":70,"strokeWidth":1,"opacity":1},
"encoding":{"stroke":{"field":"s","type":"nominal","scale":{"domain":["-AD","-RS","Ours(ConvE)"],"range":["#ff7f0e","#1f77b4","#2ca02c"]},"legend":null},
"fill":{"field":"s","type":"nominal","scale":{"domain":["-AD","-RS","Ours(ConvE)"],"range":["transparent","transparent","#2ca02c"]},"legend":null},
"shape":{"field":"s","type":"nominal","scale":{"domain":["-AD","-RS","Ours(ConvE)"],"range":["square","triangle-up","M0,-1L0.2245,-0.309L0.9511,-0.309L0.3633,0.118L0.5878,0.809L0,0.382L-0.5878,0.809L-0.3633,0.118L-0.9511,-0.309L-0.2245,-0.309Z"]},"legend":null}}}
]},
{"width":179,"height":177,"title":{"text":"NELL-995"},"data":{"name":"nell_mrr"},
"encoding":{"x":{"field":"x","type":"quantitative","scale":{"domain":[-1.45,30.45],"nice":false,"zero":false},"axis":{"values":[0,10,20,30],"title":null}},
"y":{"field":"y","type":"quantitative","scale":{"domain":[0.7081,0.7863],"nice":false,"zero":false},"axis":{"values":[0.71,0.72,0.73,0.74,0.75,0.76,0.77,0.78],"format":".2f","title":null}}},
"layer":[
{"mark":{"type":"line","strokeWidth":1.5},"encoding":{"color":{"field":"s","type":"nominal","scale":{"domain":["Ours(ConvE)","-AD","-RS"],"range":["#2ca02c","#ff7f0e","#1f77b4"]},"legend":{"title":null,"orient":"none","legendX":161,"legendY":-60}}}},
{"transform":[{"filter":"indexof([0,10,20],datum.x)>=0"}],"mark":{"type":"point","filled":false,"size":70,"strokeWidth":1,"opacity":1},
"encoding":{"stroke":{"field":"s","type":"nominal","scale":{"domain":["-AD","-RS","Ours(ConvE)"],"range":["#ff7f0e","#1f77b4","#2ca02c"]},"legend":null},
"fill":{"field":"s","type":"nominal","scale":{"domain":["-AD","-RS","Ours(ConvE)"],"range":["transparent","transparent","#2ca02c"]},"legend":null},
"shape":{"field":"s","type":"nominal","scale":{"domain":["-AD","-RS","Ours(ConvE)"],"range":["square","triangle-up","M0,-1L0.2245,-0.309L0.9511,-0.309L0.3633,0.118L0.5878,0.809L0,0.382L-0.5878,0.809L-0.3633,0.118L-0.9511,-0.309L-0.2245,-0.309Z"]},"legend":null}}}
]},
{"width":179,"height":177,"title":{"text":"1e6","anchor":"start","fontSize":11,"offset":-6},"data":{"name":"umls_path"},
"encoding":{"x":{"field":"x","type":"quantitative","scale":{"domain":[-10,210],"nice":false,"zero":false},"axis":{"values":[0,50,100,150,200],"title":null}},
"y":{"field":"y","type":"quantitative","scale":{"domain":[-8000,1380000],"nice":false,"zero":false},"axis":{"values":[0,200000,400000,600000,800000,1000000,1200000],"labelExpr":"format(datum.value/1000000,'.1f')","title":"# unique paths visited"}}},
"layer":[
{"mark":{"type":"line","strokeWidth":1.5},"encoding":{"color":{"field":"s","type":"nominal","scale":{"domain":["Ours(ConvE)","-AD","-RS"],"range":["#2ca02c","#ff7f0e","#1f77b4"]},"legend":{"title":null,"orient":"none","legendX":161,"legendY":-60}}}},
{"transform":[{"filter":"indexof([0,50,100,150],datum.x)>=0"}],"mark":{"type":"point","filled":false,"size":70,"strokeWidth":1,"opacity":1},
"encoding":{"stroke":{"field":"s","type":"nominal","scale":{"domain":["-AD","-RS","Ours(ConvE)"],"range":["#ff7f0e","#1f77b4","#2ca02c"]},"legend":null},
"fill":{"field":"s","type":"nominal","scale":{"domain":["-AD","-RS","Ours(ConvE)"],"range":["transparent","transparent","#2ca02c"]},"legend":null},
"shape":{"field":"s","type":"nominal","scale":{"domain":["-AD","-RS","Ours(ConvE)"],"range":["square","triangle-up","M0,-1L0.2245,-0.309L0.9511,-0.309L0.3633,0.118L0.5878,0.809L0,0.382L-0.5878,0.809L-0.3633,0.118L-0.9511,-0.309L-0.2245,-0.309Z"]},"legend":null}}}
]},
{"width":179,"height":177,"title":{"text":"1e6","anchor":"start","fontSize":11,"offset":4},"data":{"name":"kin_path"},
"encoding":{"x":{"field":"x","type":"quantitative","scale":{"domain":[-10,210],"nice":false,"zero":false},"axis":{"values":[0,50,100,150,200],"title":null}},
"y":{"field":"y","type":"quantitative","scale":{"domain":[105000,1173000],"nice":false,"zero":false},"axis":{"values":[200000,400000,600000,800000,1000000],"labelExpr":"format(datum.value/1000000,'.1f')","title":null}}},
"layer":[
{"mark":{"type":"line","strokeWidth":1.5},"encoding":{"color":{"field":"s","type":"nominal","scale":{"domain":["Ours(ConvE)","-AD","-RS"],"range":["#2ca02c","#ff7f0e","#1f77b4"]},"legend":{"title":null,"orient":"none","legendX":161,"legendY":-60}}}},
{"transform":[{"filter":"indexof([0,50,100,150],datum.x)>=0"}],"mark":{"type":"point","filled":false,"size":70,"strokeWidth":1,"opacity":1},
"encoding":{"stroke":{"field":"s","type":"nominal","scale":{"domain":["-AD","-RS","Ours(ConvE)"],"range":["#ff7f0e","#1f77b4","#2ca02c"]},"legend":null},
"fill":{"field":"s","type":"nominal","scale":{"domain":["-AD","-RS","Ours(ConvE)"],"range":["transparent","transparent","#2ca02c"]},"legend":null},
"shape":{"field":"s","type":"nominal","scale":{"domain":["-AD","-RS","Ours(ConvE)"],"range":["square","triangle-up","M0,-1L0.2245,-0.309L0.9511,-0.309L0.3633,0.118L0.5878,0.809L0,0.382L-0.5878,0.809L-0.3633,0.118L-0.9511,-0.309L-0.2245,-0.309Z"]},"legend":null}}}
]},
{"width":179,"height":177,"title":{"text":"1e8","anchor":"start","fontSize":11,"offset":4},"data":{"name":"fb_path"},
"encoding":{"x":{"field":"x","type":"quantitative","scale":{"domain":[-0.95,20],"nice":false,"zero":false},"axis":{"values":[0,5,10,15,20],"title":"# epochs","titleFontSize":19,"titlePadding":6}},
"y":{"field":"y","type":"quantitative","scale":{"domain":[-1430000,83000000],"nice":false,"zero":false},"axis":{"values":[0,20000000,40000000,60000000,80000000],"labelExpr":"format(datum.value/100000000,'.1f')","title":null}}},
"layer":[
{"mark":{"type":"line","strokeWidth":1.5},"encoding":{"color":{"field":"s","type":"nominal","scale":{"domain":["Ours(ConvE)","-AD","-RS"],"range":["#2ca02c","#ff7f0e","#1f77b4"]},"legend":{"title":null,"orient":"none","legendX":161,"legendY":-60}}}},
{"transform":[{"filter":"indexof([0,5,10,15],datum.x)>=0"}],"mark":{"type":"point","filled":false,"size":70,"strokeWidth":1,"opacity":1},
"encoding":{"stroke":{"field":"s","type":"nominal","scale":{"domain":["-AD","-RS","Ours(ConvE)"],"range":["#ff7f0e","#1f77b4","#2ca02c"]},"legend":null},
"fill":{"field":"s","type":"nominal","scale":{"domain":["-AD","-RS","Ours(ConvE)"],"range":["transparent","transparent","#2ca02c"]},"legend":null},
"shape":{"field":"s","type":"nominal","scale":{"domain":["-AD","-RS","Ours(ConvE)"],"range":["square","triangle-up","M0,-1L0.2245,-0.309L0.9511,-0.309L0.3633,0.118L0.5878,0.809L0,0.382L-0.5878,0.809L-0.3633,0.118L-0.9511,-0.309L-0.2245,-0.309Z"]},"legend":null}}}
]},
{"width":179,"height":177,"title":{"text":"1e7","anchor":"start","fontSize":11,"offset":4},"data":{"name":"wn_path"},
"encoding":{"x":{"field":"x","type":"quantitative","scale":{"domain":[-0.45,9.45],"nice":false,"zero":false},"axis":{"values":[0,2,4,6,8],"title":null}},
"y":{"field":"y","type":"quantitative","scale":{"domain":[170000,9090000],"nice":false,"zero":false},"axis":{"values":[2000000,4000000,6000000,8000000],"labelExpr":"format(datum.value/10000000,'.1f')","title":null}}},
"layer":[
{"mark":{"type":"line","strokeWidth":1.5},"encoding":{"color":{"field":"s","type":"nominal","scale":{"domain":["Ours(ConvE)","-AD","-RS"],"range":["#2ca02c","#ff7f0e","#1f77b4"]},"legend":{"title":null,"orient":"none","legendX":161,"legendY":-60}}}},
{"transform":[{"filter":"indexof([0,2,4,6,8],datum.x)>=0"}],"mark":{"type":"point","filled":false,"size":70,"strokeWidth":1,"opacity":1},
"encoding":{"stroke":{"field":"s","type":"nominal","scale":{"domain":["-AD","-RS","Ours(ConvE)"],"range":["#ff7f0e","#1f77b4","#2ca02c"]},"legend":null},
"fill":{"field":"s","type":"nominal","scale":{"domain":["-AD","-RS","Ours(ConvE)"],"range":["transparent","transparent","#2ca02c"]},"legend":null},
"shape":{"field":"s","type":"nominal","scale":{"domain":["-AD","-RS","Ours(ConvE)"],"range":["square","triangle-up","M0,-1L0.2245,-0.309L0.9511,-0.309L0.3633,0.118L0.5878,0.809L0,0.382L-0.5878,0.809L-0.3633,0.118L-0.9511,-0.309L-0.2245,-0.309Z"]},"legend":null}}}
]},
{"width":179,"height":177,"title":{"text":"1e6","anchor":"start","fontSize":11,"offset":-2},"data":{"name":"nell_path"},
"encoding":{"x":{"field":"x","type":"quantitative","scale":{"domain":[-1.45,30.45],"nice":false,"zero":false},"axis":{"values":[0,10,20,30],"title":null}},
"y":{"field":"y","type":"quantitative","scale":{"domain":[-10000,1757000],"nice":false,"zero":false},"axis":{"values":[0,250000,500000,750000,1000000,1250000,1500000,1750000],"labelExpr":"format(datum.value/1000000,'.2f')","title":null}}},
"layer":[
{"mark":{"type":"line","strokeWidth":1.5},"encoding":{"color":{"field":"s","type":"nominal","scale":{"domain":["Ours(ConvE)","-AD","-RS"],"range":["#2ca02c","#ff7f0e","#1f77b4"]},"legend":{"title":null,"orient":"none","legendX":161,"legendY":-60}}}},
{"transform":[{"filter":"indexof([0,10,20],datum.x)>=0"}],"mark":{"type":"point","filled":false,"size":70,"strokeWidth":1,"opacity":1},
"encoding":{"stroke":{"field":"s","type":"nominal","scale":{"domain":["-AD","-RS","Ours(ConvE)"],"range":["#ff7f0e","#1f77b4","#2ca02c"]},"legend":null},
"fill":{"field":"s","type":"nominal","scale":{"domain":["-AD","-RS","Ours(ConvE)"],"range":["transparent","transparent","#2ca02c"]},"legend":null},
"shape":{"field":"s","type":"nominal","scale":{"domain":["-AD","-RS","Ours(ConvE)"],"range":["square","triangle-up","M0,-1L0.2245,-0.309L0.9511,-0.309L0.3633,0.118L0.5878,0.809L0,0.382L-0.5878,0.809L-0.3633,0.118L-0.9511,-0.309L-0.2245,-0.309Z"]},"legend":null}}}
]}
],
"config":{
"font":"DejaVu Sans",
"view":{"stroke":"black","strokeWidth":1},
"axis":{"domain":false,"grid":true,"gridColor":"#b0b0b0","gridWidth":0.8,"tickColor":"black","tickSize":3.5,"tickWidth":0.8,"labelFontSize":11,"labelColor":"black","labelPadding":3.5,"labelFlush":false,"labelOverlap":false,"labelBound":false,"titleFontSize":17,"titleFontWeight":"normal","titleColor":"black","titlePadding":5},
"title":{"fontSize":17,"fontWeight":"normal","color":"black","offset":6,"frame":"group","anchor":"middle"},
"legend":{"direction":"horizontal","columns":3,"columnPadding":285,"labelFontSize":14,"labelOffset":22,"symbolSize":196,"symbolStrokeWidth":1.5,"symbolType":"M-2.14,0L2.14,0","labelColor":"black","padding":0}
}
}
